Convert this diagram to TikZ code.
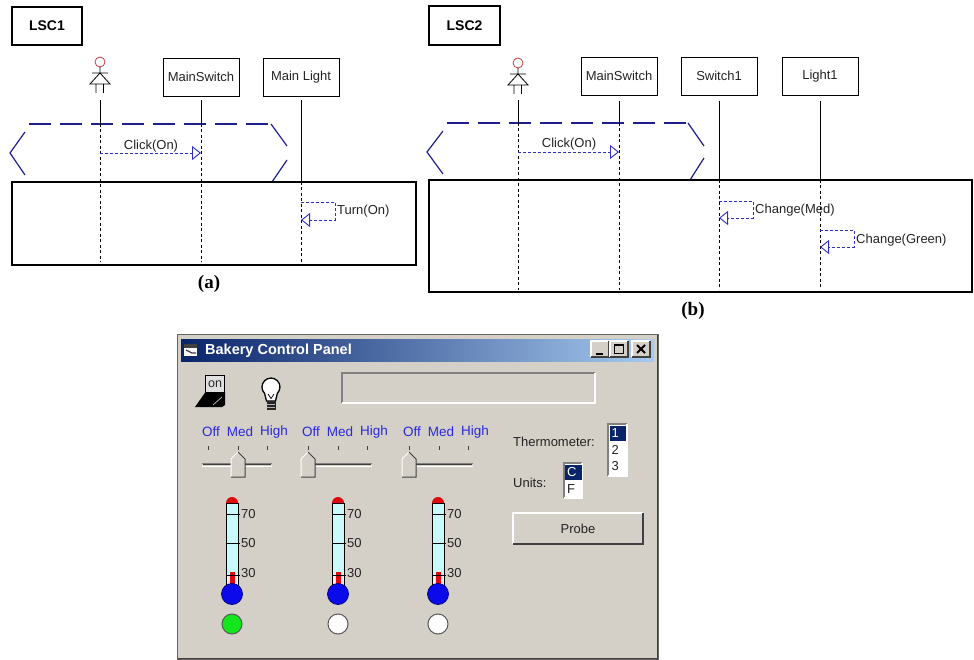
\documentclass[tikz,border=0pt]{standalone}
\usepackage{fontspec}
\setmainfont{Liberation Sans}
\newfontfamily\capfont{Liberation Serif}
\usetikzlibrary{arrows.meta}
\usetikzlibrary{positioning}

\definecolor{prechartblue}{RGB}{30,30,140}
\definecolor{msgblue}{RGB}{45,45,190}
\definecolor{tickblue}{RGB}{40,40,225}
\definecolor{winface}{RGB}{212,208,200}
\definecolor{winshadow}{RGB}{128,128,128}
\definecolor{windark}{RGB}{64,64,64}
\definecolor{titledark}{RGB}{10,36,106}
\definecolor{titlelight}{RGB}{166,202,240}
\definecolor{tubecyan}{RGB}{200,250,252}
\definecolor{mercury}{RGB}{220,10,10}
\definecolor{bulbblue}{RGB}{10,10,235}
\definecolor{lampgreen}{RGB}{20,230,30}
\definecolor{headred}{RGB}{200,60,60}
\definecolor{inktext}{RGB}{35,35,35}

% raised and sunken edges of a widget node
\newcommand\bevelup[1]{%
  \draw[white, line width=1.2pt] (#1.south west) -- (#1.north west) -- (#1.north east);
  \draw[windark, line width=1.2pt] (#1.north east) -- (#1.south east) -- (#1.south west);}
\newcommand\beveldown[1]{%
  \draw[winshadow, line width=1.2pt] (#1.south west) -- (#1.north west) -- (#1.north east);
  \draw[white, line width=1.2pt] (#1.north east) -- (#1.south east) -- (#1.south west);}

\begin{document}
\begin{tikzpicture}[x=1pt, y=-1pt]
  \tikzset{
    gui/.style={font=\fontsize{13}{15}\selectfont, text=inktext, inner sep=1pt},
    lscname/.style={draw, line width=2.2pt, minimum width=70pt, minimum height=38pt,
      inner sep=0pt, font=\fontsize{14}{16}\selectfont\bfseries},
    objbox/.style={draw, line width=0.9pt, minimum width=76pt, minimum height=38pt,
      inner sep=0pt, gui},
    chartbox/.style={draw, line width=2.4pt},
    prechart/.style={draw=prechartblue, line width=1.3pt, dash pattern=on 22pt off 9pt},
    prechartside/.style={draw=prechartblue, line width=1.2pt},
    life/.style={line width=0.9pt},
    lifedash/.style={line width=1pt, dash pattern=on 3pt off 2.5pt},
    msg/.style={msgblue, line width=0.9pt, dash pattern=on 3pt off 2pt,
      -{Triangle[open, length=9pt, width=14pt]}},
    caption/.style={font=\capfont\fontsize{19}{21}\selectfont\bfseries},
    widget/.style={rectangle, inner sep=0pt, outer sep=0pt, fill=winface},
    listbox/.style={widget, fill=white},
    sliderlabel/.style={font=\fontsize{13.5}{15}\selectfont, text=tickblue, inner sep=0pt},
    templabel/.style={gui, anchor=west},
    actor/.pic={
      \draw[headred, line width=0.8pt] (0,0) circle[radius=5];
      \draw[line width=0.8pt] (0,5) -- (0,11) (-8,11) -- (8,11)
        (0,11) -- (-10,22) -- (10,22) -- cycle
        (-4,22) -- (-4,31) (3.5,22) -- (3.5,31);
    },
    slider/.pic={
      \node[sliderlabel] (off) at (11,432) {Off};
      \node[sliderlabel] (med) at (40,432) {Med};
      \node[sliderlabel] (high) at (74,432) {High};
      \foreach \t in {8,38,67}
        \draw[windark, line width=1pt] (\t,446) -- (\t,450);
      \draw[winshadow, line width=1pt] (2,463.5) -- (72,463.5);
      \draw[windark, line width=1pt] (3,464.5) -- (71,464.5);
      \draw[white, line width=1pt] (2,466) -- (72,466);
      \fill[winface] (#1,452) -- (#1+7,459) -- (#1+7,477) -- (#1-7,477) -- (#1-7,459) -- cycle;
      \draw[white, line width=1pt] (#1-7,477) -- (#1-7,459) -- (#1,452);
      \draw[windark, line width=1pt] (#1,452) -- (#1+7,459) -- (#1+7,477) -- (#1-7,477);
    },
    thermo/.pic={
      \draw[fill=tubecyan, line width=1pt] (-6,503) rectangle (6,590);
      \fill[white!92!red] (-5.5,575.5) rectangle (5.5,589.5);
      \fill[mercury] (-2.5,572) rectangle (2.5,590);
      \fill[mercury] (-6,503) arc[start angle=180, end angle=360, radius=6];
      \foreach \y in {514,543,575}
        \draw[line width=1pt] (-6,\y) -- (8,\y);
      \node[templabel] (t70) at (8,514) {70};
      \node[templabel] (t50) at (8,543) {50};
      \node[templabel] (t30) at (8,573) {30};
      \draw[fill=bulbblue, draw=bulbblue!55!black, line width=0.8pt] (0,594) circle[radius=10.5];
      \draw[fill=#1, draw=black!65, line width=1pt] (0,624) circle[radius=10];
    },
  }
  \useasboundingbox (0,0) rectangle (974,660);

  % ---- LSC1 ----
  \node[lscname] (lsc1) at (47,26) {LSC1};
  \pic (user1fig) at (100,62) {actor};
  \coordinate (user1) at (100,100);
  \node[objbox] (ms1) at (201,77) {MainSwitch};
  \node[objbox] (ml1) at (301,77) {Main Light};

  \coordinate (pre1top) at (0,124);
  \coordinate (main1top) at (0,182);
  \coordinate (main1bot) at (0,262);
  % prechart hexagon
  \draw[prechart] (29,124) -- (271,124);
  \draw[prechartside] (25,132) -- (10,153) -- (25,175);
  \draw[prechartside] (271,124) -- (287,146) (287,160) -- (272,182);
  \draw[chartbox] (12,182) rectangle (416,265);

  \draw[life] (user1) -- (user1 |- pre1top);
  \draw[lifedash] (user1 |- pre1top) -- (user1 |- main1bot);
  \draw[life] ([yshift=-4pt]ms1.south) -- (ms1.south |- pre1top);
  \draw[lifedash] (ms1.south |- pre1top) -- (ms1.south |- main1bot);
  \draw[life] ([yshift=-4pt]ml1.south) -- (ml1.south |- main1top);
  \draw[lifedash] (ml1.south |- main1top) -- (ml1.south |- main1bot);

  \coordinate (click1) at (0,153);
  \draw[msg] (user1 |- click1) -- (ms1.south |- click1);
  \node[gui] (click1lbl) at (151,146) {Click(On)};
  \coordinate (turn1a) at (301,202);
  \coordinate (turn1b) at (301,220);
  \draw[msg] (turn1a) -- ++(34,0) |- (turn1b);
  \node[gui, anchor=west] (turn1lbl) at (336,211) {Turn(On)};
  \node[caption] (capa) at (209,284) {(a)};

  % ---- LSC2 ----
  \node[lscname, minimum width=71pt, minimum height=39pt] (lsc2) at (464.5,25.5) {LSC2};
  \pic (user2fig) at (518,63) {actor};
  \coordinate (user2) at (518,100);
  \node[objbox] (ms2) at (619,76) {MainSwitch};
  \node[objbox] (sw2) at (719,76) {Switch1};
  \node[objbox] (lt2) at (820,76) {Light1};

  \coordinate (pre2top) at (0,123);
  \coordinate (main2top) at (0,180);
  \coordinate (main2bot) at (0,290);
  % prechart hexagon
  \draw[prechart] (447,123) -- (688,123);
  \draw[prechartside] (443,131) -- (427,152) -- (443,174);
  \draw[prechartside] (688,123) -- (704,146) (704,158) -- (690,180);
  \draw[chartbox] (429,180) rectangle (972,292);

  \draw[life] (user2) -- (user2 |- pre2top);
  \draw[lifedash] (user2 |- pre2top) -- (user2 |- main2bot);
  \draw[life] ([yshift=-6pt]ms2.south) -- (ms2.south |- pre2top);
  \draw[lifedash] (ms2.south |- pre2top) -- (ms2.south |- main2bot);
  \draw[life] ([yshift=-6pt]sw2.south) -- (sw2.south |- main2top);
  \draw[lifedash] (sw2.south |- main2top) -- (sw2.south |- main2bot);
  \draw[life] ([yshift=-6pt]lt2.south) -- (lt2.south |- main2top);
  \draw[lifedash] (lt2.south |- main2top) -- (lt2.south |- main2bot);

  \coordinate (click2) at (0,152);
  \draw[msg] (user2 |- click2) -- (ms2.south |- click2);
  \node[gui] (click2lbl) at (569,144) {Click(On)};
  \coordinate (med2a) at (719,201);
  \coordinate (med2b) at (719,218);
  \draw[msg] (med2a) -- ++(34,0) |- (med2b);
  \node[gui, anchor=west] (med2lbl) at (754,210) {Change(Med)};
  \coordinate (green2a) at (820,230);
  \coordinate (green2b) at (820,247);
  \draw[msg] (green2a) -- ++(34,0) |- (green2b);
  \node[gui, anchor=west] (green2lbl) at (855,240) {Change(Green)};
  \node[caption] (capb) at (693,311) {(b)};

  % ---- control panel window ----
  \node[widget, minimum width=481pt, minimum height=325pt] (win) at (417.5,496.5) {};
  \bevelup{win}
  \draw[windark!80, line width=0.8pt] (win.north west) rectangle (win.south east);
  \shade[left color=titledark, right color=titlelight] (181,339) rectangle (654,361);
  \fill[white] (184,344) rectangle (197,356);
  \fill[black!75] (184,344) rectangle (197,347.5);
  \draw[black!75, line width=1.2pt] (186,350) -- (192,353) -- (196,353);
  \node[anchor=west, text=white, inner sep=0pt,
    font=\fontsize{14.5}{16}\selectfont\bfseries] (title) at (205,350.5) {Bakery Control Panel};

  \node[widget, minimum width=18pt, minimum height=16pt] (btnmin) at (600,349) {};
  \node[widget, minimum width=18pt, minimum height=16pt] (btnmax) at (619,349) {};
  \node[widget, minimum width=18pt, minimum height=16pt] (btnclose) at (641,349) {};
  \bevelup{btnmin} \bevelup{btnmax} \bevelup{btnclose}
  \draw[line width=2pt] (596,353.5) -- (603,353.5);
  \draw[line width=1pt] (614.5,344.5) rectangle (623.5,353.5);
  \draw[line width=2pt] (614.5,345) -- (623.5,345);
  \draw[line width=1.8pt] (637,345) -- (645,353) (645,345) -- (637,353);

  \node[widget, minimum width=253pt, minimum height=30pt] (readout) at (468.5,388) {};
  \beveldown{readout}

  % power switch and bulb
  \node[widget, draw, line width=0.8pt, fill=black!12, minimum width=19pt, minimum height=17pt,
    font=\fontsize{12.5}{13}\selectfont, text=black!85, anchor=north] (power) at (215,375.5) {on};
  \draw[line width=1.8pt] (power.north west) -- (power.south west);
  \fill (195,407) -- (205.5,392) -- (225,392) -- (225,405) -- (222,407) -- cycle;
  \draw[black!35, line width=0.8pt] (213,405) -- (222,397);
  \draw[fill=white, line width=1.3pt] (266.5,401) -- (264.6,393.4)
    arc[start angle=135, end angle=405, radius=9] -- (275.5,401) -- cycle;
  \draw[line width=0.7pt] (268,394) -- (271,398.5) -- (274,394);
  \fill[black!85] (266.5,401) rectangle (275.5,409.5);
  \draw[white!70!black, line width=0.6pt] (267,404) -- (275,404) (267,406.8) -- (275,406.8);

  % sliders and thermometers
  \pic (sl1) at (200,0) {slider=38};
  \pic (sl2) at (300,0) {slider=8};
  \pic (sl3) at (401,0) {slider=8};
  \pic (th1) at (232,0) {thermo=lampgreen};
  \pic (th2) at (338,0) {thermo=white};
  \pic (th3) at (438,0) {thermo=white};

  % thermometer selection
  \node[gui, anchor=west] (thermlbl) at (512,442) {Thermometer:};
  \node[listbox, minimum width=19pt, minimum height=52pt] (thermlist) at (617.5,450) {};
  \beveldown{thermlist}
  \fill[titledark] (609.5,425.5) rectangle (626,441);
  \node[gui, text=white, anchor=west] (item1) at (610.5,433) {1};
  \node[gui, anchor=west] (item2) at (610.5,450) {2};
  \node[gui, anchor=west] (item3) at (610.5,466) {3};

  \node[gui, anchor=west] (unitlbl) at (512,483) {Units:};
  \node[listbox, minimum width=18pt, minimum height=35pt] (unitlist) at (573,480.5) {};
  \beveldown{unitlist}
  \fill[titledark] (565,464.5) rectangle (581.5,480);
  \node[gui, text=white, anchor=west] (unitc) at (566,472) {C};
  \node[gui, anchor=west] (unitf) at (566,489) {F};

  \node[widget, gui, minimum width=130pt, minimum height=31pt] (probe) at (578,528.5) {Probe};
  \bevelup{probe}
\end{tikzpicture}
\end{document}
